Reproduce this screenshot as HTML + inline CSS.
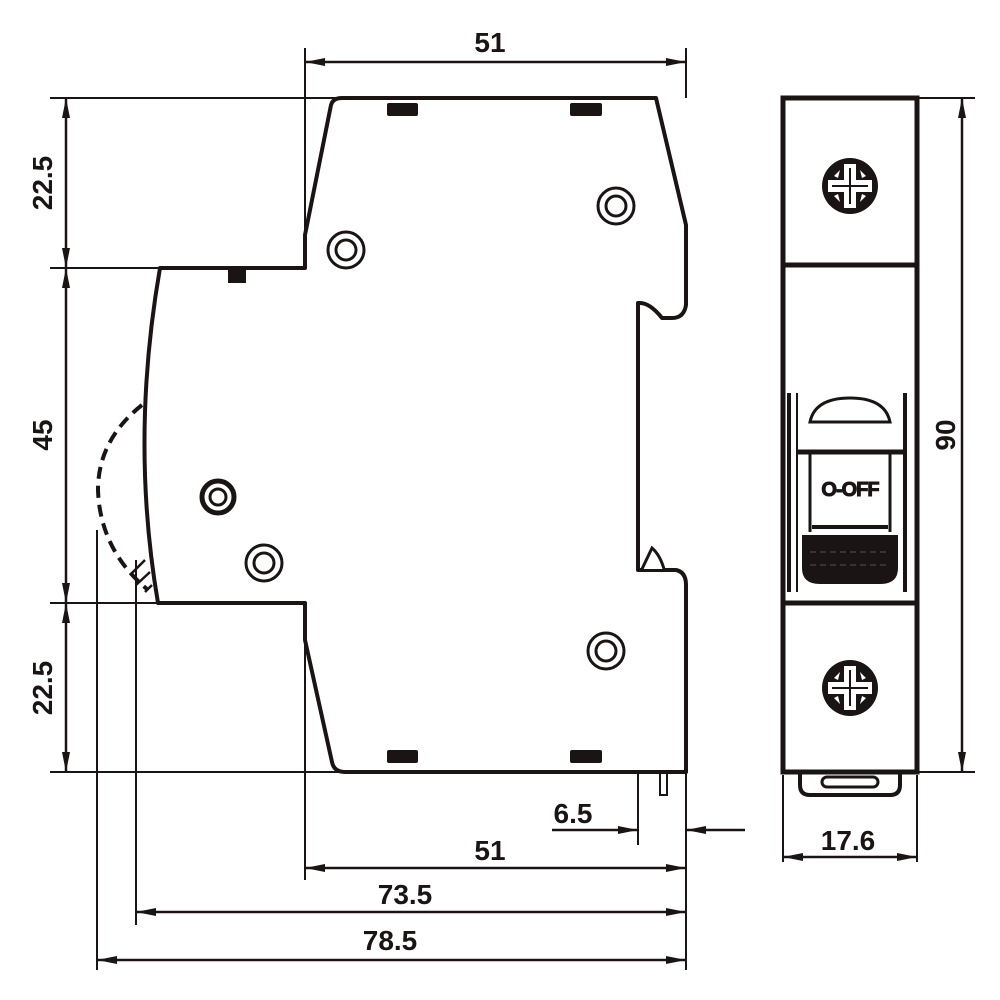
<!DOCTYPE html>
<html><head><meta charset="utf-8"><style>html,body{margin:0;padding:0;background:#fff}svg{display:block}text{font-family:"Liberation Sans",sans-serif;font-weight:bold;fill:#1a1414}</style></head><body>
<svg width="1000" height="1000" viewBox="0 0 1000 1000" xmlns="http://www.w3.org/2000/svg">
<defs>
<marker id="a" viewBox="0 0 20 8" refX="20" refY="4" markerWidth="20" markerHeight="8" markerUnits="userSpaceOnUse" orient="auto-start-reverse"><path d="M0,0 L20,4 L0,8 Z" fill="#1a1414"/></marker>
<g id="scr">
<circle r="28" fill="#1a1414"/>
<circle r="22" fill="#1a1414" stroke="#fff" stroke-width="0"/>
<path d="M-16,-10 L-10,-16 L-12,-8 Z M16,-10 L10,-16 L12,-8 Z M-16,10 L-10,16 L-12,8 Z M16,10 L10,16 L12,8 Z" fill="#fff"/>
<rect x="-6" y="-22" width="12" height="44" fill="#fff"/>
<rect x="-22" y="-6" width="44" height="12" fill="#fff"/>
<rect x="-1" y="-18" width="2" height="36" fill="#1a1414"/>
<rect x="-18" y="-1" width="36" height="2" fill="#1a1414"/>
</g>
</defs>
<g stroke="#1a1414" fill="none">
<path d="M342,98 L656,98 L686,225 L686,305 Q684,318 672,318 L662,318 Q650,303 640,303 L638,303 L638,570 L676,570 Q686,572 686,585 L686,772 L345,772 Q334,772 332,762 L305,640 L305,603 L158,603 Q130,440 160,268 L305,268 L305,235 L331,105 Q333,98 342,98 Z" stroke-width="4" stroke-linejoin="round"/>
<path d="M642,569 L652,548 Q660,555 664,569" stroke-width="3" fill="#fff"/>
<path d="M142,405 Q98,440 98,490 Q100,550 148,590" stroke-width="4" stroke-dasharray="12,7"/>
<path d="M130,575 L145,560 M136,585 L150,572 M145,592 L152,585" stroke-width="2.5"/>
<g stroke-width="3">
<circle cx="346" cy="250" r="18"/><circle cx="346" cy="250" r="10"/>
<circle cx="616" cy="206" r="18"/><circle cx="616" cy="206" r="10"/>
<circle cx="264" cy="563" r="18"/><circle cx="264" cy="563" r="10"/>
<circle cx="606" cy="651" r="18"/><circle cx="606" cy="651" r="10"/>
</g>
<circle cx="218" cy="497" r="16" stroke-width="5"/><circle cx="218" cy="497" r="8" stroke-width="3"/>
<g stroke-width="2">
<line x1="305" y1="48" x2="305" y2="268"/><line x1="686" y1="48" x2="686" y2="98"/>
<line x1="50" y1="98" x2="340" y2="98"/><line x1="50" y1="268" x2="160" y2="268"/>
<line x1="50" y1="603" x2="158" y2="603"/><line x1="50" y1="772" x2="340" y2="772"/>
<line x1="305" y1="603" x2="305" y2="880"/><line x1="686" y1="772" x2="686" y2="970"/>
<line x1="136" y1="560" x2="136" y2="925"/><line x1="97" y1="530" x2="97" y2="970"/>
<line x1="638" y1="772" x2="638" y2="845"/>
<line x1="917" y1="98" x2="975" y2="98"/><line x1="917" y1="772" x2="975" y2="772"/>
<line x1="783" y1="775" x2="783" y2="862"/><line x1="917" y1="775" x2="917" y2="862"/>
</g>
<g stroke-width="2.5">
<line x1="305" y1="62" x2="686" y2="62" marker-start="url(#a)" marker-end="url(#a)"/>
<line x1="66" y1="98" x2="66" y2="268" marker-start="url(#a)" marker-end="url(#a)"/>
<line x1="66" y1="268" x2="66" y2="603" marker-start="url(#a)" marker-end="url(#a)"/>
<line x1="66" y1="603" x2="66" y2="772" marker-start="url(#a)" marker-end="url(#a)"/>
<line x1="305" y1="868" x2="686" y2="868" marker-start="url(#a)" marker-end="url(#a)"/>
<line x1="136" y1="912" x2="686" y2="912" marker-start="url(#a)" marker-end="url(#a)"/>
<line x1="97" y1="960" x2="686" y2="960" marker-start="url(#a)" marker-end="url(#a)"/>
<line x1="552" y1="830" x2="638" y2="830" marker-end="url(#a)"/>
<line x1="745" y1="830" x2="686" y2="830" marker-end="url(#a)"/>
<line x1="962" y1="98" x2="962" y2="772" marker-start="url(#a)" marker-end="url(#a)"/>
<line x1="783" y1="857" x2="917" y2="857" marker-start="url(#a)" marker-end="url(#a)"/>
</g>
<rect x="660" y="772" width="7" height="23" stroke-width="2"/>
<rect x="783" y="98" width="134" height="674" stroke-width="5"/>
<line x1="783" y1="265" x2="917" y2="265" stroke-width="5"/>
<line x1="783" y1="603" x2="917" y2="603" stroke-width="5"/>
<path d="M800,772 L800,785 Q800,795 810,795 L890,795 Q900,795 900,785 L900,772" stroke-width="4"/>
<rect x="822" y="777" width="56" height="10" rx="5" stroke-width="3"/>
<line x1="789" y1="393" x2="789" y2="592" stroke-width="4"/>
<line x1="797" y1="393" x2="797" y2="592" stroke-width="2"/>
<line x1="905" y1="393" x2="905" y2="592" stroke-width="4"/>
<line x1="797" y1="452" x2="905" y2="452" stroke-width="5"/>
<path d="M810,422 Q815,398 850,398 Q885,398 890,422 Z" stroke-width="3"/>
<line x1="810" y1="452" x2="810" y2="532" stroke-width="3"/>
<line x1="890" y1="452" x2="890" y2="532" stroke-width="3"/>
</g>
<g fill="#1a1414">
<rect x="387" y="103" width="31" height="13" rx="2"/><rect x="570" y="103" width="32" height="13" rx="2"/>
<rect x="387" y="750" width="31" height="13" rx="2"/><rect x="570" y="750" width="32" height="13" rx="2"/>
<rect x="228" y="270" width="18" height="13"/>
<path d="M802,535 L898,535 L898,568 Q898,584 880,584 L820,584 Q802,584 802,568 Z"/>
</g>
<line x1="812" y1="527" x2="888" y2="527" stroke="#1a1414" stroke-width="4"/>
<g stroke="#555" stroke-width="1" stroke-dasharray="6,4"><line x1="810" y1="552" x2="890" y2="552"/><line x1="810" y1="565" x2="890" y2="565"/></g>
<use href="#scr" x="850" y="186"/>
<use href="#scr" x="850" y="688"/>
<text x="850" y="496" font-size="20" text-anchor="middle" letter-spacing="-1" stroke="#1a1414" stroke-width="1">O-OFF</text>
<text x="490" y="52" font-size="28" text-anchor="middle">51</text>
<text x="490" y="860" font-size="28" text-anchor="middle">51</text>
<text x="405" y="904" font-size="28" text-anchor="middle">73.5</text>
<text x="390" y="950" font-size="28" text-anchor="middle">78.5</text>
<text x="573" y="823" font-size="28" text-anchor="middle">6.5</text>
<text x="848" y="850" font-size="28" text-anchor="middle">17.6</text>
<text transform="translate(52,183) rotate(-90)" font-size="28" text-anchor="middle">22.5</text>
<text transform="translate(52,435) rotate(-90)" font-size="28" text-anchor="middle">45</text>
<text transform="translate(52,688) rotate(-90)" font-size="28" text-anchor="middle">22.5</text>
<text transform="translate(955,435) rotate(-90)" font-size="28" text-anchor="middle">90</text>
</svg>
</body></html>
